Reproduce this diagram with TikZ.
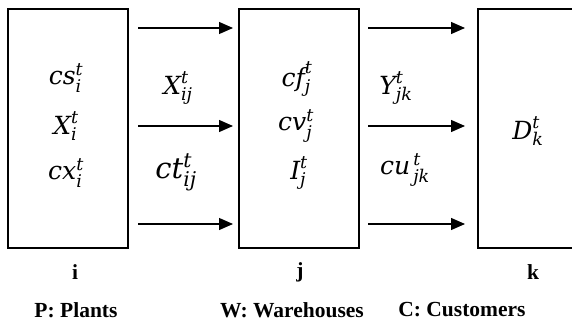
\documentclass[tikz,border=0pt]{standalone}
\usepackage{amsmath}
\usepackage{fontspec}
\setmainfont{Liberation Serif}
\newfontfamily\mfont{DejaVu Serif}
\newcommand{\mv}[3]{\ensuremath{\text{\mfont\itshape #1}^{\text{\mfont\itshape #2}}_{\text{\mfont\itshape #3}}}}
\usetikzlibrary{arrows.meta}
\begin{document}
\begin{tikzpicture}[x=1pt,y=-1pt,
  boxst/.style={draw,line width=1.4pt,minimum width=120pt,minimum height=239pt,inner sep=0pt},
  arr/.style={line width=1.2pt,-{Triangle[length=14pt,width=12pt]}},
  mathlbl/.style={font=\fontsize{25}{30}\selectfont,inner sep=0pt},
  biglbl/.style={font=\fontsize{29}{34}\selectfont,inner sep=0pt},
  captxt/.style={font=\fontsize{21.5}{25}\selectfont\bfseries,inner sep=0pt}]
\clip (0,0) rectangle (572,323);
\node[boxst] (p) at (68,128.5) {};
\node[boxst] (w) at (299,128.5) {};
\node[boxst] (c) at (538,128.5) {};
% arrows
\foreach \y/\n in {28/a,126/b,224/c}{
  \coordinate (s1\n) at (138,\y); \coordinate (e1\n) at (233,\y);
  \coordinate (s2\n) at (368,\y); \coordinate (e2\n) at (465,\y);
  \draw[arr] (s1\n) -- (e1\n);
  \draw[arr] (s2\n) -- (e2\n);
}
% box texts
\node[mathlbl] (cs) at (66,78) {\mv{cs}{t}{i}};
\node[mathlbl] (xi) at (66,126) {\mv{X}{t}{i}};
\node[mathlbl] (cx) at (66,173) {\mv{cx}{t}{i}};
\node[mathlbl] (cf) at (297,79) {\mv{cf}{t}{j}};
\node[mathlbl] (cv) at (296,126) {\mv{cv}{t}{j}};
\node[mathlbl] (ij) at (299,173) {\mv{I}{t}{j}};
\node[mathlbl] (dk) at (528,131) {\mv{D}{t}{k}};
% flow texts
\node[mathlbl] (xij) at (178,88) {\mv{X}{t}{ij}};
\node[biglbl] (ctij) at (176,172) {\mv{ct}{t}{ij}};
\node[mathlbl] (yjk) at (396,88) {\mv{Y}{t}{jk}};
\node[mathlbl] (cujk) at (405,170) {\mv{cu}{\,t}{\,jk}};
% captions
\node[captxt] (li) at (75,272) {i};
\node[captxt] (lj) at (300,272) {j};
\node[captxt] (lk) at (533,272) {k};
\node[captxt] (lp) at (76,310) {P: Plants};
\node[captxt] (lw) at (292,310) {W: Warehouses};
\node[captxt] (lc) at (462,310) {C: Customers};
\end{tikzpicture}
\end{document}
